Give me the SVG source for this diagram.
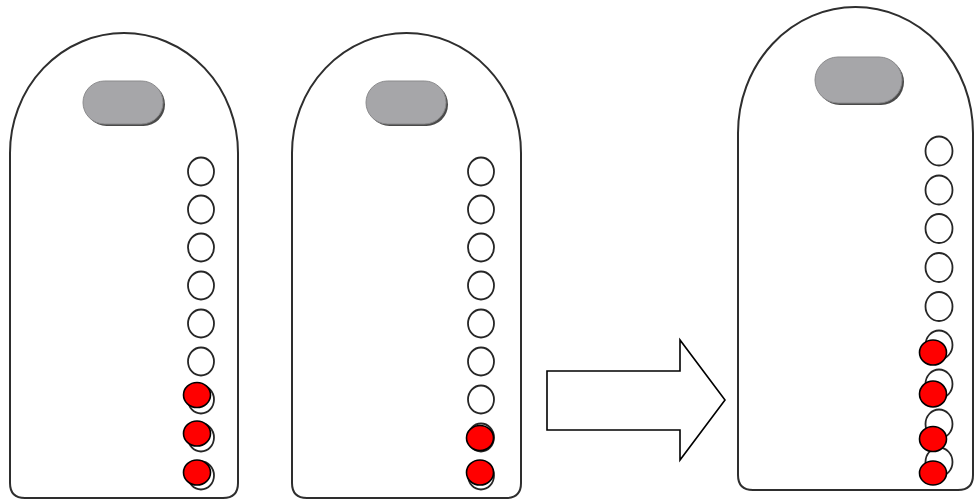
<svg xmlns="http://www.w3.org/2000/svg" width="974" height="501" viewBox="0 0 974 501">
<defs>
<style>
.card{fill:#ffffff;stroke:#2e2e2e;stroke-width:2}
.pillsh{fill:#4a4a4a}
.pill{fill:#a6a6a9;stroke:#8a8a8c;stroke-width:1}
.hole{fill:#ffffff;stroke:#262626;stroke-width:1.8}
.dot{fill:#ff0000;stroke:#000000;stroke-width:1.6}
.arrow{fill:#ffffff;stroke:#000000;stroke-width:1.6}
</style>
</defs>
<rect width="974" height="501" fill="#ffffff"/>
<g id="card1">
<path class="card" d="M10,153 A114,120 0 0 1 238,153 L238,483 Q238,498 223,498 L25,498 Q10,498 10,483 Z"/>
<rect class="pillsh" x="85" y="83" width="80" height="43" rx="21.5"/>
<rect class="pill" x="83" y="81" width="80" height="43" rx="21.5"/>
<ellipse class="hole" cx="201" cy="171.5" rx="13" ry="14"/>
<ellipse class="hole" cx="201" cy="209.5" rx="13" ry="14"/>
<ellipse class="hole" cx="201" cy="247.5" rx="13" ry="14"/>
<ellipse class="hole" cx="201" cy="285.5" rx="13" ry="14"/>
<ellipse class="hole" cx="201" cy="323.5" rx="13" ry="14"/>
<ellipse class="hole" cx="201" cy="361.5" rx="13" ry="14"/>
<ellipse class="hole" cx="201" cy="399.5" rx="13" ry="14"/>
<ellipse class="hole" cx="201" cy="437.5" rx="13" ry="14"/>
<ellipse class="hole" cx="201" cy="475.5" rx="13" ry="14"/>
<ellipse class="dot" cx="197" cy="395" rx="13.5" ry="12.5"/>
<ellipse class="dot" cx="197" cy="433.5" rx="13.5" ry="12.5"/>
<ellipse class="dot" cx="197" cy="472.5" rx="13.5" ry="12.5"/>
</g>
<g id="card2">
<path class="card" d="M292,153 A114.5,120 0 0 1 521,153 L521,483 Q521,498 506,498 L307,498 Q292,498 292,483 Z"/>
<rect class="pillsh" x="368" y="83" width="80" height="43" rx="21.5"/>
<rect class="pill" x="366" y="81" width="80" height="43" rx="21.5"/>
<ellipse class="hole" cx="481" cy="171.5" rx="13" ry="14"/>
<ellipse class="hole" cx="481" cy="209.5" rx="13" ry="14"/>
<ellipse class="hole" cx="481" cy="247.5" rx="13" ry="14"/>
<ellipse class="hole" cx="481" cy="285.5" rx="13" ry="14"/>
<ellipse class="hole" cx="481" cy="323.5" rx="13" ry="14"/>
<ellipse class="hole" cx="481" cy="361.5" rx="13" ry="14"/>
<ellipse class="hole" cx="481" cy="399.5" rx="13" ry="14"/>
<ellipse class="hole" cx="481" cy="437.5" rx="13" ry="14"/>
<ellipse class="hole" cx="481" cy="475.5" rx="13" ry="14"/>
<ellipse class="dot" cx="480" cy="438" rx="13.5" ry="12.5"/>
<ellipse class="dot" cx="480" cy="472.5" rx="13.5" ry="12.5"/>
</g>
<g id="arrow">
<path class="arrow" d="M547,371 L680,371 L680,340 L725,400 L680,460 L680,430 L547,430 Z"/>
</g>
<g id="card3">
<path class="card" d="M738,133 A117.5,126 0 0 1 973,133 L973,475 Q973,490 958,490 L753,490 Q738,490 738,475 Z"/>
<rect class="pillsh" x="817" y="59" width="87" height="46" rx="23"/>
<rect class="pill" x="815" y="57" width="87" height="46" rx="23"/>
<ellipse class="hole" cx="939" cy="151" rx="13.5" ry="14.5"/>
<ellipse class="hole" cx="939" cy="190" rx="13.5" ry="14.5"/>
<ellipse class="hole" cx="939" cy="228.5" rx="13.5" ry="14.5"/>
<ellipse class="hole" cx="939" cy="267.5" rx="13.5" ry="14.5"/>
<ellipse class="hole" cx="939" cy="306.5" rx="13.5" ry="14.5"/>
<ellipse class="hole" cx="939" cy="345" rx="13.5" ry="14.5"/>
<ellipse class="hole" cx="939" cy="384" rx="13.5" ry="14.5"/>
<ellipse class="hole" cx="939" cy="424" rx="13.5" ry="14.5"/>
<ellipse class="hole" cx="939" cy="462" rx="13.5" ry="14.5"/>
<ellipse class="dot" cx="933" cy="352.5" rx="13.5" ry="12.5"/>
<ellipse class="dot" cx="933" cy="394" rx="13.5" ry="13"/>
<ellipse class="dot" cx="933" cy="439" rx="13.5" ry="12.5"/>
<ellipse class="dot" cx="933" cy="473" rx="13.5" ry="12"/>
</g>
</svg>
